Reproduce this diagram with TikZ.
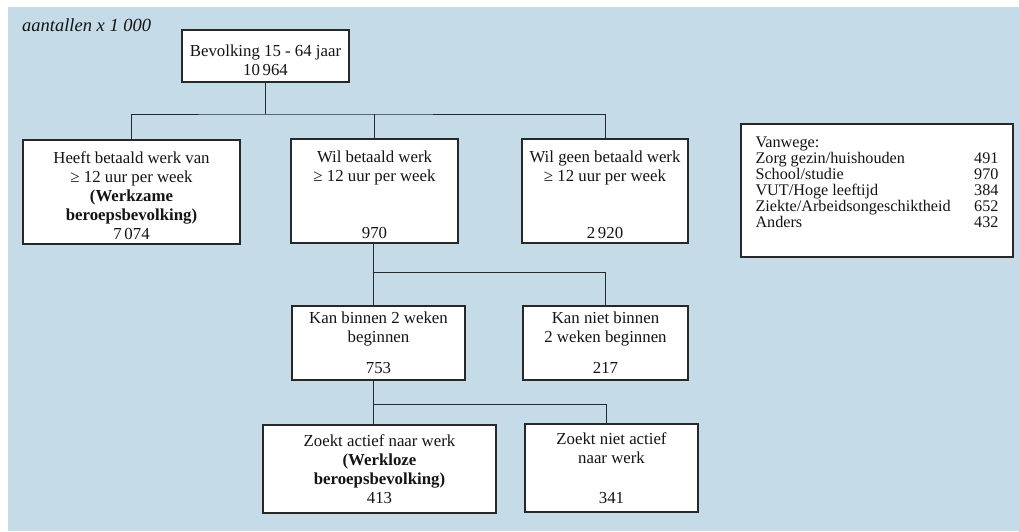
\documentclass[tikz,border=0pt]{standalone}
\usepackage{fontspec}
\setmainfont{Liberation Serif}
\definecolor{bg}{RGB}{197,219,232}
\definecolor{ln}{RGB}{40,40,40}
\definecolor{tx}{RGB}{20,20,20}
\newcommand\dnstrut{\rule{0pt}{19.5pt}}
\newcommand\legrow[2]{\rule[-4.5pt]{0pt}{16pt}#1 & #2\\}
\begin{document}
\begin{tikzpicture}[x=1pt,y=-1pt,
  box/.style={draw=ln, fill=white, line width=1.1pt, inner sep=0pt, align=center, text=tx,
              font=\fontsize{16.8}{19}\selectfont},
  thickbox/.style={box, line width=2.6pt},
  conn/.style={draw=ln, line width=0.9pt}]
\useasboundingbox (0,0) rectangle (1019,531);
\fill[bg] (8,7) rectangle (1019,531);
\node[anchor=base west, text=tx, inner sep=0pt, font=\fontsize{18.5}{17}\selectfont\itshape] (unit) at (22,31) {aantallen x 1 000};
\node[box, minimum width=167pt, minimum height=52pt] (top) at (265.5,56) {\dnstrut Bevolking 15 - 64 jaar\\10\,964};
\node[box, minimum width=217pt, minimum height=104pt] (left) at (131.5,192) {\dnstrut Heeft betaald werk van\\ ≥ 12 uur per week\\ \textbf{(Werkzame}\\ \textbf{beroepsbevolking)}\\ 7\,074};
\node[box, minimum width=167pt, minimum height=104pt] (mid) at (374.5,191) {\dnstrut Wil betaald werk\\ ≥ 12 uur per week\\[38pt] 970};
\node[box, minimum width=166pt, minimum height=104pt] (right) at (605,191) {\dnstrut Wil geen betaald werk\\ ≥ 12 uur per week\\[38pt] 2\,920};
\node[box, minimum width=272pt, minimum height=133pt, font=\fontsize{16.2}{16}\selectfont] (legend) at (877,190.5) {%
\renewcommand\arraystretch{0}%
\begin{tabular*}{243pt}{@{}l@{\extracolsep{\fill}}r@{}}
\legrow{Vanwege:}{}
\legrow{Zorg gezin/huishouden}{491}
\legrow{School/studie}{970}
\legrow{VUT/Hoge leeftijd}{384}
\legrow{Ziekte/Arbeidsongeschiktheid}{652}
\legrow{Anders}{432}[17pt]
\end{tabular*}};
\node[box, minimum width=173pt, minimum height=74pt] (kb) at (378.5,343) {Kan binnen 2 weken\\ beginnen\\[12pt] 753};
\node[box, minimum width=165pt, minimum height=74pt] (kn) at (605.5,343) {Kan niet binnen\\ 2 weken beginnen\\[12pt] 217};
\node[thickbox, minimum width=233pt, minimum height=88pt] (za) at (379.5,469) {Zoekt actief naar werk\\ \textbf{(Werkloze}\\ \textbf{beroepsbevolking)}\\ 413};
\node[box, minimum width=173pt, minimum height=88pt] (zn) at (611.5,468) {Zoekt niet actief\\ naar werk\\[21pt] 341};
% connectors
\coordinate (j1) at (264,114);
\draw[conn] (top.south) -- (top.south |- j1);
\draw[conn] (left.north) |- (j1) -| (right.north);
\draw[conn] (mid.north) -- (mid.north |- j1);
\coordinate (j2) at (373,272);
\draw[conn] (mid.south -| j2) -- (j2) -| (kn.north);
\draw[conn] (j2) -- (j2 |- kb.north);
\coordinate (j3) at (373,404);
\coordinate (j3r) at (606,404);
\draw[conn] (j2 |- kb.south) -- (j3) -- (j3r) -- (j3r |- zn.north);
\draw[conn] (j3) -- (j3 |- za.north);
\end{tikzpicture}
\end{document}
